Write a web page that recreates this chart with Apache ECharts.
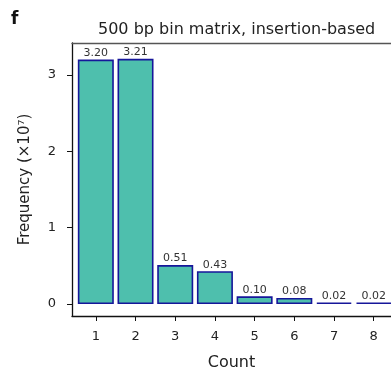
<!DOCTYPE html>
<html><head><meta charset="utf-8">
<script src="https://cdn.jsdelivr.net/npm/echarts@6/dist/echarts.min.js"></script>
<style>html,body{margin:0;padding:0;background:#fff}#c{width:391px;height:372px}</style>
</head><body><div id="c"></div>
<script>
const counts = [1, 2, 3, 4, 5, 6, 7, 8];
const frequency = [3.20, 3.21, 0.51, 0.43, 0.10, 0.08, 0.02, 0.02];
const yTicks = [0, 1, 2, 3];
const xTicks = counts;

const chart = echarts.init(document.getElementById('c'), null, {renderer: 'canvas'});
const tickFont = 'DejaVu Sans';
const nameFont = 'DejaVu Sans';
chart.setOption({
  animation: false,
  backgroundColor: '#fff',
  title: {
    text: '500 bp bin matrix, insertion-based',
    left: 93, top: 17,
    textStyle: {fontFamily: nameFont, fontSize: 16, fontWeight: 'normal', color: '#222'}
  },
  graphic: [{
    type: 'text', left: 11, top: 11,
    style: {text: 'f', font: 'bold 17px "DejaVu Sans"', fill: '#111'}
  }],
  grid: {left: 72, top: 43, right: 0, bottom: 56, outerBoundsMode: 'none', containLabel: false},
  xAxis: [{
    type: 'value', min: 0.4, max: 8.435,
    name: 'Count', nameLocation: 'middle', nameGap: 39,
    nameTextStyle: {fontFamily: nameFont, fontSize: 16, color: '#222'},
    axisLine: {show: true, onZero: false, lineStyle: {color: '#111', width: 1.3}},
    axisTick: {show: true, customValues: xTicks, length: 5, lineStyle: {color: '#111'}},
    axisLabel: {customValues: xTicks, fontFamily: tickFont, fontSize: 13, color: '#222', margin: 14},
    splitLine: {show: false}
  }, {
    type: 'value', min: 0.4, max: 8.435, position: 'top',
    axisLine: {show: true, onZero: false, lineStyle: {color: '#555', width: 1.3}},
    axisTick: {show: false}, axisLabel: {show: false}, splitLine: {show: false}
  }],
  yAxis: {
    type: 'value', min: -0.157, max: 3.417,
    name: 'Frequency (×10⁷)', nameLocation: 'middle', nameGap: 39,
    nameTextStyle: {fontFamily: nameFont, fontSize: 15, color: '#222'},
    axisLine: {show: true, onZero: false, lineStyle: {color: '#111', width: 1.3}},
    axisTick: {show: true, customValues: yTicks, length: 5, lineStyle: {color: '#111'}},
    axisLabel: {customValues: yTicks, fontFamily: tickFont, fontSize: 13, color: '#222', margin: 16},
    splitLine: {show: false}
  },
  series: [{
    type: 'bar',
    data: counts.map((c, i) => [c, frequency[i]]),
    barWidth: 36,
    itemStyle: {color: '#4EBFAD', borderColor: '#16169A', borderWidth: 1.6},
    label: {
      show: true, position: 'top', distance: 1,
      formatter: p => p.value[1].toFixed(2),
      fontFamily: tickFont, fontSize: 11, color: '#333'
    }
  }]
});
</script></body></html>
